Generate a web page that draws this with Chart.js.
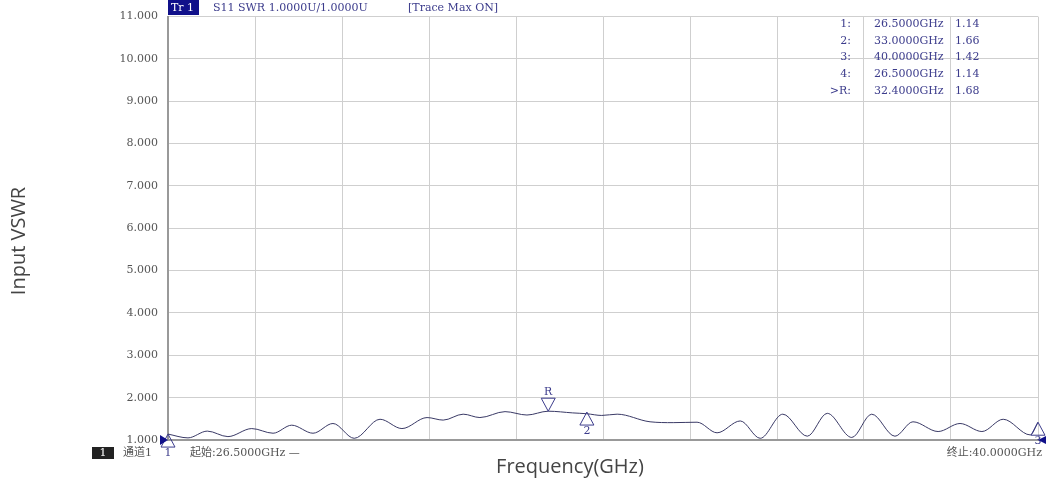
<!DOCTYPE html>
<html lang="en">
<head>
    <meta charset="UTF-8">
    <title>S11 SWR</title>
    <script src="https://cdn.jsdelivr.net/npm/chart.js"></script>
    <style>
        html, body { margin: 0; padding: 0; background: #fff; }
        #wrap { width: 1046px; height: 486px; }
    </style>
</head>
<body>
    <div id="wrap"><canvas id="swrChart" width="1046" height="486"></canvas></div>
    <script>
    // trace
    const freqs = [26.50, 26.81, 27.11, 27.43, 27.80, 28.13, 28.42, 28.75, 29.06, 29.39,
                   29.79, 30.13, 30.52, 30.77, 31.08, 31.34, 31.73, 32.07, 32.40, 32.78,
                   33.00, 33.23, 33.47, 33.98, 34.34, 34.71, 35.02, 35.38, 35.69, 36.04,
                   36.42, 36.73, 37.11, 37.42, 37.78, 38.06, 38.45, 38.79, 39.13, 39.46,
                   39.88, 40.00];
    const vswr = [1.14, 1.05, 1.21, 1.08, 1.27, 1.16, 1.35, 1.16, 1.39, 1.04,
                  1.49, 1.27, 1.53, 1.47, 1.61, 1.53, 1.67, 1.59, 1.68, 1.64,
                  1.62, 1.58, 1.61, 1.43, 1.41, 1.42, 1.17, 1.45, 1.04, 1.61,
                  1.09, 1.63, 1.06, 1.61, 1.09, 1.43, 1.20, 1.39, 1.20, 1.49,
                  1.12, 1.42];

    const xGrid = [26.5, 27.85, 29.2, 30.55, 31.9, 33.25, 34.6, 35.95, 37.3, 38.65, 40.0];
    const yTicks = [1, 2, 3, 4, 5, 6, 7, 8, 9, 10, 11];

    // marker table
    const markerNames = ['1', '2', '3', '4', 'R'];
    const markerFreqs = [26.5, 33.0, 40.0, 26.5, 32.4];
    const markerVals = [1.14, 1.66, 1.42, 1.14, 1.68];
    const markerRowLabels = ['1:', '2:', '3:', '4:', '>R:'];
    const markerFreqText = ['26.5000GHz', '33.0000GHz', '40.0000GHz', '26.5000GHz', '32.4000GHz'];
    const markerValText = ['1.14', '1.66', '1.42', '1.14', '1.68'];

    const serif = '"DejaVu Serif", "Liberation Serif", "Noto Sans CJK SC", serif';
    const navy = '#3c3c8c';

    const overlay = {
        id: 'overlay',
        afterDatasetsDraw(chart) {
            const ctx = chart.ctx;
            const xs = chart.scales.x, ys = chart.scales.y;
            const area = chart.chartArea;
            ctx.save();

            // header bar
            ctx.fillStyle = '#10108a';
            ctx.fillRect(area.left, 0, 31, 15);
            ctx.font = '11px ' + serif;
            ctx.textBaseline = 'middle';
            ctx.fillStyle = '#fff';
            ctx.fillText('Tr 1', area.left + 3, 8);
            ctx.fillStyle = navy;
            ctx.fillText('S11 SWR 1.0000U/1.0000U', 213, 8);
            ctx.fillText('[Trace Max ON]', 408, 8);

            // marker readout
            markerRowLabels.forEach((lab, i) => {
                const y = 24 + i * 16.7;
                ctx.textAlign = 'right';
                ctx.fillText(lab, 851, y);
                ctx.textAlign = 'left';
                ctx.fillText(markerFreqText[i], 874, y);
                ctx.fillText(markerValText[i], 955, y);
            });

            // markers on the trace
            ctx.strokeStyle = navy;
            ctx.lineWidth = 1;
            ctx.textAlign = 'center';
            markerNames.forEach((name, i) => {
                if (name === '4') return;
                const px = xs.getPixelForValue(markerFreqs[i]);
                const py = ys.getPixelForValue(markerVals[i]);
                ctx.beginPath();
                if (name === 'R') {
                    ctx.moveTo(px - 7, py - 13);
                    ctx.lineTo(px + 7, py - 13);
                    ctx.lineTo(px, py);
                    ctx.closePath();
                    ctx.stroke();
                    ctx.fillStyle = navy;
                    ctx.fillText(name, px, py - 19);
                } else {
                    ctx.moveTo(px, py);
                    ctx.lineTo(px + 7, py + 13);
                    ctx.lineTo(px - 7, py + 13);
                    ctx.closePath();
                    ctx.stroke();
                    ctx.fillStyle = navy;
                    ctx.fillText(name, px, py + 19);
                }
            });

            // reference level arrows
            const ry = ys.getPixelForValue(1);
            ctx.fillStyle = '#10108a';
            ctx.beginPath();
            ctx.moveTo(area.left - 8, ry - 5);
            ctx.lineTo(area.left, ry);
            ctx.lineTo(area.left - 8, ry + 5);
            ctx.closePath();
            ctx.fill();
            ctx.beginPath();
            ctx.moveTo(area.right + 8, ry - 4);
            ctx.lineTo(area.right, ry);
            ctx.lineTo(area.right + 8, ry + 4);
            ctx.closePath();
            ctx.fill();

            // footer
            ctx.fillStyle = '#222';
            ctx.fillRect(92, 447, 22, 12);
            ctx.fillStyle = '#fff';
            ctx.font = '11px ' + serif;
            ctx.fillText('1', 103, 453);
            ctx.fillStyle = '#555';
            ctx.font = '11px ' + serif;
            ctx.textAlign = 'left';
            ctx.fillText('通道1', 123, 453);
            ctx.fillText('起始:26.5000GHz —', 190, 453);
            ctx.textAlign = 'right';
            ctx.fillText('终止:40.0000GHz', 1042, 453);

            // axis titles
            ctx.fillStyle = '#444';
            ctx.font = '20px "Open Sans", sans-serif';
            ctx.textAlign = 'center';
            ctx.fillText('Frequency(GHz)', 570, 467);
            ctx.translate(19, 241);
            ctx.rotate(-Math.PI / 2);
            ctx.fillText('Input VSWR', 0, 0);
            ctx.restore();
        }
    };

    const ctx = document.getElementById('swrChart').getContext('2d');
    new Chart(ctx, {
        type: 'line',
        data: {
            datasets: [{
                label: 'S11 SWR',
                data: freqs.map((f, i) => ({ x: f, y: vswr[i] })),
                borderColor: '#3a3a66',
                borderWidth: 1,
                pointRadius: 0,
                cubicInterpolationMode: 'monotone',
                fill: false
            }]
        },
        options: {
            responsive: false,
            animation: false,
            layout: { padding: { left: 0, right: 8, top: 15, bottom: 0 } },
            plugins: {
                legend: { display: false },
                tooltip: { enabled: false }
            },
            scales: {
                x: {
                    type: 'linear',
                    min: 26.5,
                    max: 40,
                    afterBuildTicks(scale) { scale.ticks = xGrid.map(v => ({ value: v })); },
                    afterFit(scale) { scale.height = 46; },
                    ticks: { display: false },
                    grid: { color: '#cfcfcf', lineWidth: 1, drawTicks: false },
                    border: { color: '#999', width: 2 }
                },
                y: {
                    min: 1,
                    max: 11,
                    afterBuildTicks(scale) { scale.ticks = yTicks.map(v => ({ value: v })); },
                    afterFit(scale) { scale.width = 168; },
                    ticks: {
                        padding: 10,
                        color: '#555',
                        font: { family: serif, size: 11 },
                        callback: v => v.toFixed(3)
                    },
                    grid: { color: '#cfcfcf', lineWidth: 1, drawTicks: false },
                    border: { color: '#999', width: 2 }
                }
            }
        },
        plugins: [overlay]
    });
    </script>
</body>
</html>
